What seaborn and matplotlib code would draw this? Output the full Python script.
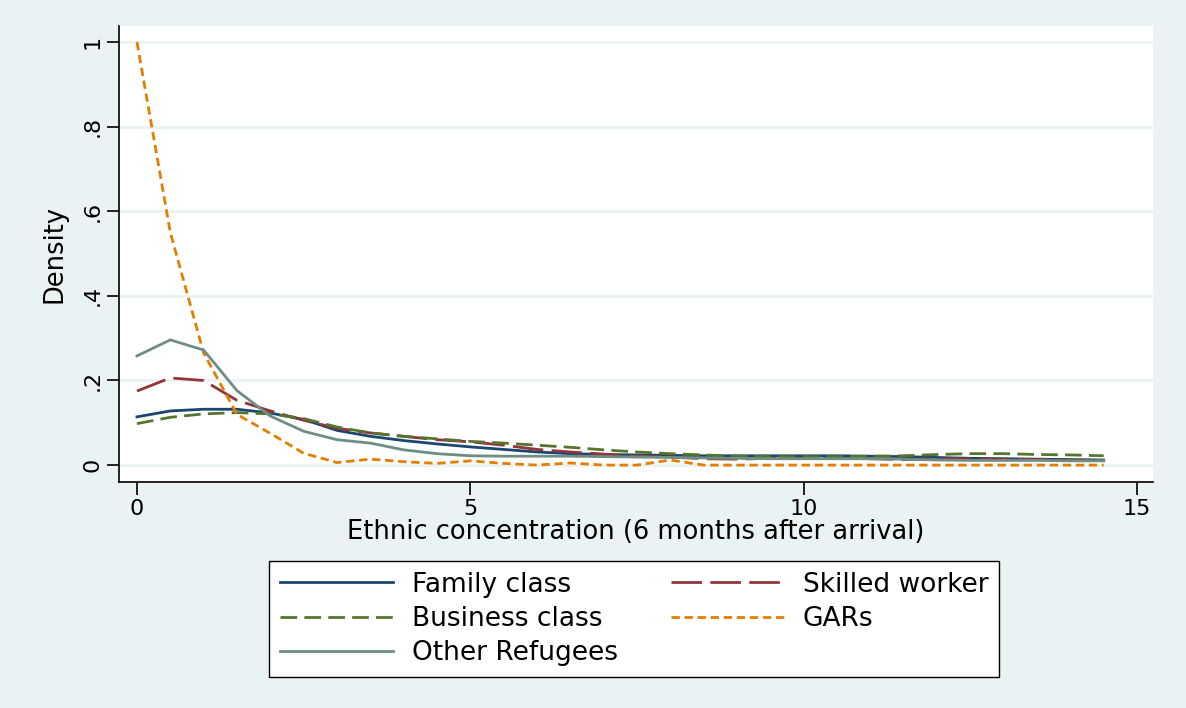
import matplotlib
matplotlib.use("Agg")
import matplotlib.pyplot as plt
import seaborn as sns
import pandas as pd

# grille des x (pas de 0.5)
x_vals = [0, 0.5, 1, 1.5, 2, 2.5, 3, 3.5, 4, 4.5, 5, 5.5, 6, 6.5, 7, 7.5,
          8, 8.5, 9, 9.5, 10, 10.5, 11, 11.5, 12, 12.5, 13, 13.5, 14, 14.5]

family_class = [0.114, 0.128, 0.132, 0.132, 0.123, 0.108, 0.082, 0.068, 0.058, 0.050,
                0.043, 0.037, 0.031, 0.027, 0.025, 0.024, 0.023, 0.022, 0.022, 0.022,
                0.022, 0.022, 0.021, 0.020, 0.018, 0.016, 0.015, 0.014, 0.013, 0.012]
skilled_worker = [0.175, 0.206, 0.200, 0.153, 0.128, 0.106, 0.087, 0.076, 0.068, 0.060,
                  0.055, 0.047, 0.037, 0.031, 0.026, 0.021, 0.019, 0.015, 0.014, 0.016,
                  0.016, 0.016, 0.015, 0.013, 0.015, 0.015, 0.014, 0.013, 0.012, 0.011]
business_class = [0.098, 0.113, 0.121, 0.124, 0.121, 0.110, 0.090, 0.076, 0.068, 0.062,
                  0.056, 0.052, 0.047, 0.042, 0.036, 0.031, 0.027, 0.024, 0.021, 0.020,
                  0.020, 0.020, 0.021, 0.022, 0.025, 0.027, 0.027, 0.025, 0.024, 0.022]
gars = [1.000, 0.550, 0.265, 0.120, 0.075, 0.028, 0.006, 0.014, 0.008, 0.004,
        0.010, 0.004, 0.000, 0.005, 0.000, 0.000, 0.012, 0.000, 0.000, 0.000,
        0.000, 0.000, 0.000, 0.000, 0.000, 0.000, 0.000, 0.000, 0.000, 0.000]
other_refugees = [0.258, 0.296, 0.272, 0.176, 0.116, 0.080, 0.060, 0.052, 0.036, 0.027,
                  0.022, 0.021, 0.021, 0.021, 0.020, 0.019, 0.018, 0.017, 0.016, 0.015,
                  0.015, 0.015, 0.015, 0.014, 0.012, 0.011, 0.011, 0.011, 0.010, 0.010]

groups = ["Family class", "Skilled worker", "Business class", "GARs", "Other Refugees"]
series = [family_class, skilled_worker, business_class, gars, other_refugees]

x_ticks = [0, 5, 10, 15]
y_ticks = [0, 0.2, 0.4, 0.6, 0.8, 1.0]
y_ticklabels = ["0", ".2", ".4", ".6", ".8", "1"]

# couleurs style Stata s2color
palette = {"Family class": "#1a476f", "Skilled worker": "#90353b",
           "Business class": "#55752f", "GARs": "#e37e00",
           "Other Refugees": "#6e8e84"}
dashes = {"Family class": "", "Skilled worker": (11, 3),
          "Business class": (6, 2.6), "GARs": (3, 1.7),
          "Other Refugees": ""}

rows = []
for g, vals in zip(groups, series):
    for xv, yv in zip(x_vals, vals):
        rows.append({"x": xv, "density": yv, "group": g})
df = pd.DataFrame(rows)

bg = "#eaf2f3"
plt.rcParams["font.family"] = ["DejaVu Sans"]

fig = plt.figure(figsize=(11.86, 7.08), dpi=100, facecolor=bg)
ax = fig.add_axes([0.1003, 0.3192, 0.8719, 0.6441])
ax.set_facecolor("white")

sns.lineplot(data=df, x="x", y="density", hue="group", style="group",
             hue_order=groups, style_order=groups, palette=palette,
             dashes=dashes, linewidth=2.0, ax=ax, legend=True)

ax.set_xlim(-0.27, 15.24)
ax.set_ylim(-0.04, 1.038)
ax.set_xticks(x_ticks)
ax.set_xticklabels([str(t) for t in x_ticks], fontsize=16)
ax.set_yticks(y_ticks)
ax.set_yticklabels(y_ticklabels, fontsize=16, rotation=90, va="center")
ax.tick_params(axis="both", direction="out", length=9, width=1.2, pad=3)

for yv in y_ticks:
    ax.axhline(yv, color=bg, linewidth=2, zorder=0)

for s in ["top", "right"]:
    ax.spines[s].set_visible(False)
for s in ["left", "bottom"]:
    ax.spines[s].set_color("black")
    ax.spines[s].set_linewidth(1.2)

ax.set_xlabel("Ethnic concentration (6 months after arrival)", fontsize=18.5, labelpad=0)
ax.set_ylabel("Density", fontsize=18.5, labelpad=11)

# légende en bas, 2 colonnes, ordre comme Stata
handles, labels = ax.get_legend_handles_labels()
ax.get_legend().remove()
lookup = dict(zip(labels, handles))
order = ["Family class", "Business class", "Other Refugees", "Skilled worker", "GARs"]
leg = fig.legend([lookup[k] for k in order], order, ncol=2, loc="center",
                 bbox_to_anchor=(0.5346, 0.1257), fontsize=19, frameon=True,
                 fancybox=False, edgecolor="black", facecolor="white",
                 framealpha=1, handlelength=4.3, handletextpad=0.7,
                 columnspacing=2.0, labelspacing=0.32, borderpad=0.4,
                 borderaxespad=0)
leg.get_frame().set_linewidth(1.0)

fig.savefig("out.png", dpi=100, facecolor=bg)
